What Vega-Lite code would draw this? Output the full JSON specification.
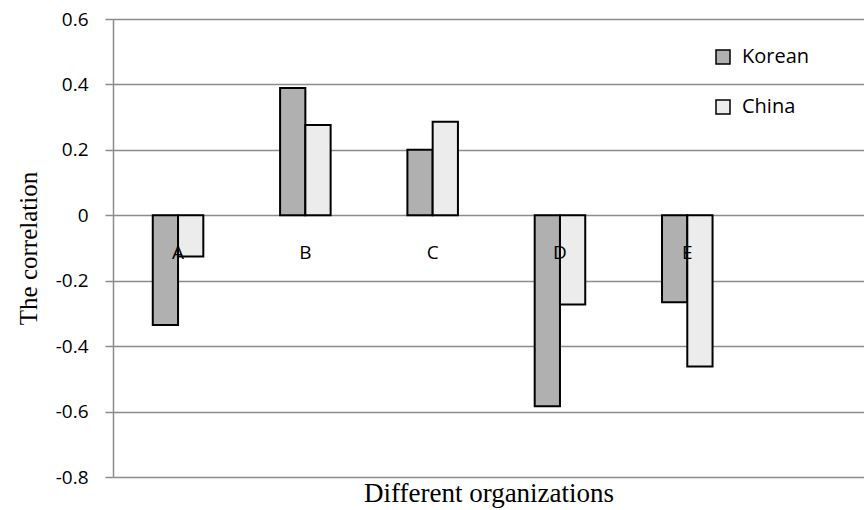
{
  "$schema": "https://vega.github.io/schema/vega-lite/v6.json",
  "autosize": {"type": "none"},
  "width": 751,
  "height": 458,
  "padding": {"left": 113, "top": 19, "right": 0, "bottom": 33},
  "background": "white",
  "config": {"view": {"stroke": null}},
  "data": {
    "values": [
      {"org": "A", "series": "Korean", "value": -0.335},
      {"org": "A", "series": "China", "value": -0.126},
      {"org": "B", "series": "Korean", "value": 0.389},
      {"org": "B", "series": "China", "value": 0.276},
      {"org": "C", "series": "Korean", "value": 0.2},
      {"org": "C", "series": "China", "value": 0.286},
      {"org": "D", "series": "Korean", "value": -0.584},
      {"org": "D", "series": "China", "value": -0.273},
      {"org": "E", "series": "Korean", "value": -0.266},
      {"org": "E", "series": "China", "value": -0.462}
    ]
  },
  "encoding": {
    "x": {
      "field": "org",
      "type": "nominal",
      "scale": {"paddingInner": 0.603, "paddingOuter": 0.751, "align": 0.208},
      "axis": {
        "labels": false,
        "ticks": false,
        "domain": false,
        "title": "Different organizations",
        "titleFont": "Liberation Serif",
        "titleFontSize": 27,
        "titleFontWeight": "normal",
        "titleColor": "black",
        "titlePadding": 3
      }
    }
  },
  "layer": [
    {
      "mark": {"type": "bar", "stroke": "black", "strokeWidth": 2},
      "encoding": {
        "xOffset": {"field": "series", "type": "nominal", "sort": ["Korean", "China"], "scale": {"paddingInner": 0, "paddingOuter": 0}},
        "y": {
          "field": "value",
          "type": "quantitative",
          "scale": {"domain": [-0.8, 0.6], "nice": false, "zero": false},
          "axis": {
            "values": [-0.8, -0.6, -0.4, -0.2, 0, 0.2, 0.4, 0.6],
            "labelExpr": "toString(datum.value)",
            "tickSize": 8,
            "tickColor": "#8c8c8c",
            "tickWidth": 1.5,
            "domainColor": "#8c8c8c",
            "domainWidth": 1.5,
            "gridColor": "#8c8c8c",
            "gridWidth": 1.5,
            "labelFont": "Open Sans",
            "labelFontSize": 19,
            "labelColor": "black",
            "labelPadding": 17,
            "title": "The correlation",
            "titleFont": "Liberation Serif",
            "titleFontSize": 25,
            "titleFontWeight": "normal",
            "titleColor": "black",
            "titlePadding": 14
          }
        },
        "fill": {
          "field": "series",
          "type": "nominal",
          "scale": {"domain": ["Korean", "China"], "range": ["#b0b0b0", "#ececec"]},
          "legend": {
            "orient": "none",
            "legendX": 600,
            "legendY": 28,
            "title": null,
            "symbolType": "square",
            "symbolSize": 196,
            "symbolStrokeColor": "black",
            "symbolStrokeWidth": 1.5,
            "labelFont": "Open Sans",
            "labelFontSize": 20,
            "labelColor": "black",
            "labelOffset": 9,
            "rowPadding": 30
          }
        }
      }
    },
    {
      "transform": [{"filter": "datum.series == 'Korean'"}],
      "mark": {"type": "text", "font": "Open Sans", "fontSize": 19, "color": "black", "baseline": "middle", "dy": 38},
      "encoding": {
        "y": {"datum": 0},
        "text": {"field": "org"}
      }
    }
  ]
}
